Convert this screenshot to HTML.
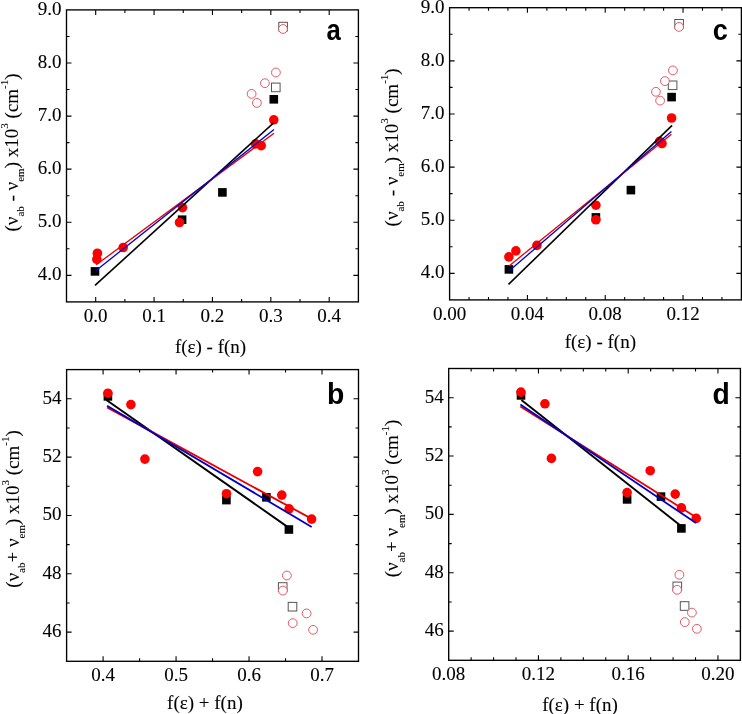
<!DOCTYPE html>
<html><head><meta charset="utf-8"><style>
html,body{margin:0;padding:0;background:#fff;width:742px;height:714px;overflow:hidden}
svg{display:block;will-change:transform}
.t{font-family:"Liberation Serif",serif;font-size:19px;fill:#000;stroke:#000;stroke-width:0.1px}
.sb,.sp{font-size:11px}
.L{font-family:"Liberation Sans",sans-serif;font-weight:bold;font-size:29.5px;fill:#000}
</style></head><body>
<svg width="742" height="714" viewBox="0 0 742 714">
<path d="M95.69 301.90v-5M95.69 9.90v5M124.88 301.90v-3M124.88 9.90v3M154.07 301.90v-5M154.07 9.90v5M183.26 301.90v-3M183.26 9.90v3M212.45 301.90v-5M212.45 9.90v5M241.64 301.90v-3M241.64 9.90v3M270.83 301.90v-5M270.83 9.90v5M300.02 301.90v-3M300.02 9.90v3M329.21 301.90v-5M329.21 9.90v5M66.50 275.35h5M358.40 275.35h-5M66.50 248.81h3M358.40 248.81h-3M66.50 222.26h5M358.40 222.26h-5M66.50 195.72h3M358.40 195.72h-3M66.50 169.17h5M358.40 169.17h-5M66.50 142.63h3M358.40 142.63h-3M66.50 116.08h5M358.40 116.08h-5M66.50 89.54h3M358.40 89.54h-3M66.50 62.99h5M358.40 62.99h-5M66.50 36.45h3M358.40 36.45h-3" stroke="#000" stroke-width="1.1" fill="none"/>
<rect x="66.50" y="9.90" width="291.90" height="292.00" fill="none" stroke="#000" stroke-width="1.35"/>
<text class="t" x="95.69" y="321.90" text-anchor="middle">0.0</text>
<text class="t" x="154.07" y="321.90" text-anchor="middle">0.1</text>
<text class="t" x="212.45" y="321.90" text-anchor="middle">0.2</text>
<text class="t" x="270.83" y="321.90" text-anchor="middle">0.3</text>
<text class="t" x="329.21" y="321.90" text-anchor="middle">0.4</text>
<text class="t" x="61.50" y="280.25" text-anchor="end">4.0</text>
<text class="t" x="61.50" y="227.16" text-anchor="end">5.0</text>
<text class="t" x="61.50" y="174.07" text-anchor="end">6.0</text>
<text class="t" x="61.50" y="120.98" text-anchor="end">7.0</text>
<text class="t" x="61.50" y="67.89" text-anchor="end">8.0</text>
<text class="t" x="61.50" y="14.80" text-anchor="end">9.0</text>
<path d="M469.05 299.90v-3M469.05 7.70v3M488.51 299.90v-3M488.51 7.70v3M507.96 299.90v-3M507.96 7.70v3M527.41 299.90v-5M527.41 7.70v5M546.87 299.90v-3M546.87 7.70v3M566.32 299.90v-3M566.32 7.70v3M585.77 299.90v-3M585.77 7.70v3M605.23 299.90v-5M605.23 7.70v5M624.68 299.90v-3M624.68 7.70v3M644.13 299.90v-3M644.13 7.70v3M663.59 299.90v-3M663.59 7.70v3M683.04 299.90v-5M683.04 7.70v5M702.49 299.90v-3M702.49 7.70v3M721.95 299.90v-3M721.95 7.70v3M449.60 273.34h5M741.40 273.34h-5M449.60 246.77h3M741.40 246.77h-3M449.60 220.21h5M741.40 220.21h-5M449.60 193.65h3M741.40 193.65h-3M449.60 167.08h5M741.40 167.08h-5M449.60 140.52h3M741.40 140.52h-3M449.60 113.95h5M741.40 113.95h-5M449.60 87.39h3M741.40 87.39h-3M449.60 60.83h5M741.40 60.83h-5M449.60 34.26h3M741.40 34.26h-3" stroke="#000" stroke-width="1.1" fill="none"/>
<rect x="449.60" y="7.70" width="291.80" height="292.20" fill="none" stroke="#000" stroke-width="1.35"/>
<text class="t" x="449.60" y="319.90" text-anchor="middle">0.00</text>
<text class="t" x="527.41" y="319.90" text-anchor="middle">0.04</text>
<text class="t" x="605.23" y="319.90" text-anchor="middle">0.08</text>
<text class="t" x="683.04" y="319.90" text-anchor="middle">0.12</text>
<text class="t" x="444.60" y="278.24" text-anchor="end">4.0</text>
<text class="t" x="444.60" y="225.11" text-anchor="end">5.0</text>
<text class="t" x="444.60" y="171.98" text-anchor="end">6.0</text>
<text class="t" x="444.60" y="118.85" text-anchor="end">7.0</text>
<text class="t" x="444.60" y="65.73" text-anchor="end">8.0</text>
<text class="t" x="444.60" y="12.60" text-anchor="end">9.0</text>
<path d="M103.09 661.30v-5M103.09 369.60v5M139.58 661.30v-3M139.58 369.60v3M176.06 661.30v-5M176.06 369.60v5M212.55 661.30v-3M212.55 369.60v3M249.04 661.30v-5M249.04 369.60v5M285.53 661.30v-3M285.53 369.60v3M322.01 661.30v-5M322.01 369.60v5M66.60 632.13h5M358.50 632.13h-5M66.60 602.96h3M358.50 602.96h-3M66.60 573.79h5M358.50 573.79h-5M66.60 544.62h3M358.50 544.62h-3M66.60 515.45h5M358.50 515.45h-5M66.60 486.28h3M358.50 486.28h-3M66.60 457.11h5M358.50 457.11h-5M66.60 427.94h3M358.50 427.94h-3M66.60 398.77h5M358.50 398.77h-5" stroke="#000" stroke-width="1.1" fill="none"/>
<rect x="66.60" y="369.60" width="291.90" height="291.70" fill="none" stroke="#000" stroke-width="1.35"/>
<text class="t" x="103.09" y="681.30" text-anchor="middle">0.4</text>
<text class="t" x="176.06" y="681.30" text-anchor="middle">0.5</text>
<text class="t" x="249.04" y="681.30" text-anchor="middle">0.6</text>
<text class="t" x="322.01" y="681.30" text-anchor="middle">0.7</text>
<text class="t" x="61.60" y="637.03" text-anchor="end">46</text>
<text class="t" x="61.60" y="578.69" text-anchor="end">48</text>
<text class="t" x="61.60" y="520.35" text-anchor="end">50</text>
<text class="t" x="61.60" y="462.01" text-anchor="end">52</text>
<text class="t" x="61.60" y="403.67" text-anchor="end">54</text>
<path d="M471.14 660.30v-3M471.14 368.50v3M493.58 660.30v-3M493.58 368.50v3M516.02 660.30v-3M516.02 368.50v3M538.45 660.30v-5M538.45 368.50v5M560.89 660.30v-3M560.89 368.50v3M583.33 660.30v-3M583.33 368.50v3M605.77 660.30v-3M605.77 368.50v3M628.21 660.30v-5M628.21 368.50v5M650.65 660.30v-3M650.65 368.50v3M673.08 660.30v-3M673.08 368.50v3M695.52 660.30v-3M695.52 368.50v3M717.96 660.30v-5M717.96 368.50v5M448.70 631.12h5M740.40 631.12h-5M448.70 601.94h3M740.40 601.94h-3M448.70 572.76h5M740.40 572.76h-5M448.70 543.58h3M740.40 543.58h-3M448.70 514.40h5M740.40 514.40h-5M448.70 485.22h3M740.40 485.22h-3M448.70 456.04h5M740.40 456.04h-5M448.70 426.86h3M740.40 426.86h-3M448.70 397.68h5M740.40 397.68h-5" stroke="#000" stroke-width="1.1" fill="none"/>
<rect x="448.70" y="368.50" width="291.70" height="291.80" fill="none" stroke="#000" stroke-width="1.35"/>
<text class="t" x="448.70" y="680.30" text-anchor="middle">0.08</text>
<text class="t" x="538.45" y="680.30" text-anchor="middle">0.12</text>
<text class="t" x="628.21" y="680.30" text-anchor="middle">0.16</text>
<text class="t" x="717.96" y="680.30" text-anchor="middle">0.20</text>
<text class="t" x="443.70" y="636.02" text-anchor="end">46</text>
<text class="t" x="443.70" y="577.66" text-anchor="end">48</text>
<text class="t" x="443.70" y="519.30" text-anchor="end">50</text>
<text class="t" x="443.70" y="460.94" text-anchor="end">52</text>
<text class="t" x="443.70" y="402.58" text-anchor="end">54</text>
<rect x="278.80" y="22.30" width="8.6" height="8.6" fill="#fff" stroke="#555" stroke-width="1"/>
<rect x="271.50" y="83.10" width="8.6" height="8.6" fill="#fff" stroke="#555" stroke-width="1"/>
<circle cx="283" cy="29" r="4.3999999999999995" fill="#fff" stroke="#e05060" stroke-width="0.95"/>
<circle cx="275.9" cy="72.5" r="4.3999999999999995" fill="#fff" stroke="#e05060" stroke-width="0.95"/>
<circle cx="264.9" cy="83.2" r="4.3999999999999995" fill="#fff" stroke="#e05060" stroke-width="0.95"/>
<circle cx="251.6" cy="93.9" r="4.3999999999999995" fill="#fff" stroke="#e05060" stroke-width="0.95"/>
<circle cx="256.9" cy="102.9" r="4.3999999999999995" fill="#fff" stroke="#e05060" stroke-width="0.95"/>
<rect x="90.70" y="267.10" width="8.6" height="8.6" fill="#000"/>
<rect x="177.80" y="215.40" width="8.6" height="8.6" fill="#000"/>
<rect x="218.10" y="188.10" width="8.6" height="8.6" fill="#000"/>
<rect x="269.50" y="95.00" width="8.6" height="8.6" fill="#000"/>
<circle cx="97.4" cy="253.2" r="4.8" fill="#f00"/>
<circle cx="96.8" cy="259.3" r="4.8" fill="#f00"/>
<circle cx="123.2" cy="247.5" r="4.8" fill="#f00"/>
<circle cx="182.5" cy="207.6" r="4.8" fill="#f00"/>
<circle cx="179.5" cy="222.5" r="4.8" fill="#f00"/>
<circle cx="255.7" cy="143.9" r="4.8" fill="#f00"/>
<circle cx="261.2" cy="145.7" r="4.8" fill="#f00"/>
<circle cx="273.8" cy="119.8" r="4.8" fill="#f00"/>
<line x1="95" y1="285.4" x2="273.6" y2="122.9" stroke="#000" stroke-width="1.6"/>
<line x1="96.2" y1="264.8" x2="274" y2="133.3" stroke="#e80000" stroke-width="1.3"/>
<line x1="95.7" y1="270.7" x2="274" y2="129.6" stroke="#0000c8" stroke-width="1.3"/>
<rect x="674.80" y="19.50" width="8.6" height="8.6" fill="#fff" stroke="#555" stroke-width="1"/>
<rect x="668.30" y="81.00" width="8.6" height="8.6" fill="#fff" stroke="#555" stroke-width="1"/>
<circle cx="679.1" cy="26.9" r="4.3999999999999995" fill="#fff" stroke="#e05060" stroke-width="0.95"/>
<circle cx="672.9" cy="70.4" r="4.3999999999999995" fill="#fff" stroke="#e05060" stroke-width="0.95"/>
<circle cx="664.9" cy="81.1" r="4.3999999999999995" fill="#fff" stroke="#e05060" stroke-width="0.95"/>
<circle cx="655.9" cy="91.8" r="4.3999999999999995" fill="#fff" stroke="#e05060" stroke-width="0.95"/>
<circle cx="660.1" cy="100.6" r="4.3999999999999995" fill="#fff" stroke="#e05060" stroke-width="0.95"/>
<rect x="504.60" y="265.10" width="8.6" height="8.6" fill="#000"/>
<rect x="591.60" y="213.10" width="8.6" height="8.6" fill="#000"/>
<rect x="626.60" y="185.80" width="8.6" height="8.6" fill="#000"/>
<rect x="667.30" y="92.80" width="8.6" height="8.6" fill="#000"/>
<circle cx="508.9" cy="256.9" r="4.8" fill="#f00"/>
<circle cx="515.9" cy="250.9" r="4.8" fill="#f00"/>
<circle cx="536.9" cy="245.4" r="4.8" fill="#f00"/>
<circle cx="595.9" cy="205.2" r="4.8" fill="#f00"/>
<circle cx="595.9" cy="219.8" r="4.8" fill="#f00"/>
<circle cx="659.6" cy="141.4" r="4.8" fill="#f00"/>
<circle cx="662" cy="143.5" r="4.8" fill="#f00"/>
<circle cx="671.6" cy="118" r="4.8" fill="#f00"/>
<line x1="508.5" y1="284.4" x2="672.1" y2="125.4" stroke="#000" stroke-width="1.6"/>
<line x1="509.1" y1="265.9" x2="671.4" y2="134.3" stroke="#e80000" stroke-width="1.3"/>
<line x1="509.3" y1="270.7" x2="671.4" y2="131.4" stroke="#0000c8" stroke-width="1.3"/>
<rect x="278.40" y="582.70" width="8.6" height="8.6" fill="#fff" stroke="#555" stroke-width="1"/>
<rect x="288.20" y="602.40" width="8.6" height="8.6" fill="#fff" stroke="#555" stroke-width="1"/>
<circle cx="286.9" cy="575.5" r="4.3999999999999995" fill="#fff" stroke="#e05060" stroke-width="0.95"/>
<circle cx="282.9" cy="590.6" r="4.3999999999999995" fill="#fff" stroke="#e05060" stroke-width="0.95"/>
<circle cx="306.6" cy="613.4" r="4.3999999999999995" fill="#fff" stroke="#e05060" stroke-width="0.95"/>
<circle cx="292.7" cy="623.1" r="4.3999999999999995" fill="#fff" stroke="#e05060" stroke-width="0.95"/>
<circle cx="313.1" cy="629.8" r="4.3999999999999995" fill="#fff" stroke="#e05060" stroke-width="0.95"/>
<rect x="103.60" y="392.10" width="8.6" height="8.6" fill="#000"/>
<rect x="222.10" y="495.80" width="8.6" height="8.6" fill="#000"/>
<rect x="262.10" y="493.00" width="8.6" height="8.6" fill="#000"/>
<rect x="284.60" y="525.20" width="8.6" height="8.6" fill="#000"/>
<circle cx="107.9" cy="393.2" r="4.8" fill="#f00"/>
<circle cx="130.9" cy="404.6" r="4.8" fill="#f00"/>
<circle cx="144.9" cy="459.1" r="4.8" fill="#f00"/>
<circle cx="226.5" cy="493.7" r="4.8" fill="#f00"/>
<circle cx="257.6" cy="471.6" r="4.8" fill="#f00"/>
<circle cx="281.8" cy="495.1" r="4.8" fill="#f00"/>
<circle cx="289.1" cy="508.8" r="4.8" fill="#f00"/>
<circle cx="311.6" cy="519.1" r="4.8" fill="#f00"/>
<line x1="106.4" y1="400" x2="287.9" y2="527.1" stroke="#000" stroke-width="1.9"/>
<line x1="107.1" y1="407.4" x2="311.4" y2="518.6" stroke="#e80000" stroke-width="1.8"/>
<line x1="107.1" y1="405.7" x2="311.7" y2="526.9" stroke="#0000c8" stroke-width="1.8"/>
<rect x="673.00" y="582.10" width="8.6" height="8.6" fill="#fff" stroke="#555" stroke-width="1"/>
<rect x="680.30" y="601.70" width="8.6" height="8.6" fill="#fff" stroke="#555" stroke-width="1"/>
<circle cx="679.4" cy="574.8" r="4.3999999999999995" fill="#fff" stroke="#e05060" stroke-width="0.95"/>
<circle cx="677.1" cy="589.8" r="4.3999999999999995" fill="#fff" stroke="#e05060" stroke-width="0.95"/>
<circle cx="691.9" cy="612.6" r="4.3999999999999995" fill="#fff" stroke="#e05060" stroke-width="0.95"/>
<circle cx="684.8" cy="622.1" r="4.3999999999999995" fill="#fff" stroke="#e05060" stroke-width="0.95"/>
<circle cx="696.9" cy="628.8" r="4.3999999999999995" fill="#fff" stroke="#e05060" stroke-width="0.95"/>
<rect x="516.70" y="391.10" width="8.6" height="8.6" fill="#000"/>
<rect x="622.80" y="495.10" width="8.6" height="8.6" fill="#000"/>
<rect x="656.70" y="492.30" width="8.6" height="8.6" fill="#000"/>
<rect x="677.10" y="524.10" width="8.6" height="8.6" fill="#000"/>
<circle cx="520.9" cy="392.1" r="4.8" fill="#f00"/>
<circle cx="544.9" cy="403.8" r="4.8" fill="#f00"/>
<circle cx="551.4" cy="458.4" r="4.8" fill="#f00"/>
<circle cx="627.1" cy="492.6" r="4.8" fill="#f00"/>
<circle cx="650.2" cy="470.7" r="4.8" fill="#f00"/>
<circle cx="675.2" cy="494.1" r="4.8" fill="#f00"/>
<circle cx="681.4" cy="507.9" r="4.8" fill="#f00"/>
<circle cx="696.2" cy="518.4" r="4.8" fill="#f00"/>
<line x1="521.4" y1="400" x2="681" y2="526" stroke="#000" stroke-width="1.9"/>
<line x1="520.4" y1="406.5" x2="696" y2="517.2" stroke="#e80000" stroke-width="1.8"/>
<line x1="520.4" y1="404.6" x2="696" y2="523.1" stroke="#0000c8" stroke-width="1.8"/>
<text class="L" transform="translate(326.6,39.8) scale(0.87,1)">a</text>
<text class="L" transform="translate(712.8,39.8) scale(0.92,1)">c</text>
<text class="L" transform="translate(327.0,403.8) scale(0.96,1)">b</text>
<text class="L" transform="translate(712.6,404) scale(0.96,1)">d</text>
<text class="t" x="174.9" y="353">f(ε) - f(n)</text>
<text class="t" x="564.7" y="348">f(ε) - f(n)</text>
<text class="t" x="167.1" y="709">f(ε) + f(n)</text>
<text class="t" x="542.2" y="710.5">f(ε) + f(n)</text>
<text class="t" transform="translate(17.8,152.5) rotate(-90)" text-anchor="middle">(ν<tspan class="sb" dy="6.5">ab</tspan><tspan dy="-6.5"> - ν</tspan><tspan class="sb" dy="6.5">em</tspan><tspan dy="-6.5">) x10</tspan><tspan class="sp" dy="-9.5">3</tspan><tspan dy="9.5"> (cm</tspan><tspan class="sp" dy="-9.5">-1</tspan><tspan dy="9.5">)</tspan></text>
<text class="t" transform="translate(18.7,509) rotate(-90)" text-anchor="middle">(ν<tspan class="sb" dy="6.5">ab</tspan><tspan dy="-6.5">+ ν</tspan><tspan class="sb" dy="6.5">em</tspan><tspan dy="-6.5">) x10</tspan><tspan class="sp" dy="-9.5">3</tspan><tspan dy="9.5"> (cm</tspan><tspan class="sp" dy="-9.5">-1</tspan><tspan dy="9.5">)</tspan></text>
<text class="t" transform="translate(397.8,147.4) rotate(-90)" text-anchor="middle">(ν<tspan class="sb" dy="6.5">ab</tspan><tspan dy="-6.5"> - ν</tspan><tspan class="sb" dy="6.5">em</tspan><tspan dy="-6.5">) x10</tspan><tspan class="sp" dy="-9.5">3</tspan><tspan dy="9.5"> (cm</tspan><tspan class="sp" dy="-9.5">-1</tspan><tspan dy="9.5">)</tspan></text>
<text class="t" transform="translate(398.3,498.5) rotate(-90)" text-anchor="middle">(ν<tspan class="sb" dy="6.5">ab</tspan><tspan dy="-6.5">+ ν</tspan><tspan class="sb" dy="6.5">em</tspan><tspan dy="-6.5">) x10</tspan><tspan class="sp" dy="-9.5">3</tspan><tspan dy="9.5"> (cm</tspan><tspan class="sp" dy="-9.5">-1</tspan><tspan dy="9.5">)</tspan></text>
</svg></body></html>
